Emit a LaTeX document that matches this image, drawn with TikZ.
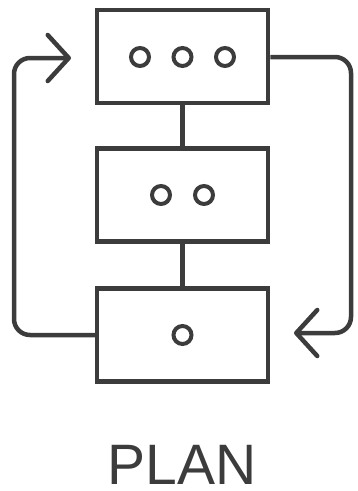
\documentclass[tikz,border=0pt]{standalone}
\usepackage{fontspec}
\setmainfont{Liberation Sans}
\usetikzlibrary{arrows.meta}
\definecolor{ink}{HTML}{3C3C3C}
\begin{document}
\begin{tikzpicture}[x=1pt,y=-1pt,
  box/.style={draw=ink,line width=4.5pt,minimum width=171pt,minimum height=93pt,inner sep=0pt},
  dot/.style={draw=ink,line width=4pt,circle,minimum size=18pt,inner sep=0pt},
  link/.style={draw=ink,line width=4.5pt},
  loop/.style={draw=ink,line width=4.5pt,rounded corners=16pt,
    -{Straight Barb[length=21pt,width=46pt,line width=4.5pt,round]}}]
\useasboundingbox (0,0) rectangle (358,491);
\node[box] (top) at (182.5,56.5) {};
\node[box] (mid) at (182.5,195) {};
\node[box] (bot) at (182.5,335) {};
\node[dot] (t1) at (140,57) {};
\node[dot] (t2) at (182.5,57) {};
\node[dot] (t3) at (225,57) {};
\node[dot] (m1) at (161,195) {};
\node[dot] (m2) at (204,195) {};
\node[dot] (b1) at (182.5,335) {};
\draw[link] (top.south) -- (mid.north);
\draw[link] (mid.south) -- (bot.north);
\coordinate (la) at (71,58);
\coordinate (ra) at (294,333);
\draw[loop] (bot.west |- 0,335) -- (14,335) -- (14,58) -- (la);
\draw[loop] (top.east |- 0,57) -- (351,57) -- (351,333) -- (ra);
\node[text=ink,font=\fontsize{57}{57}\selectfont,anchor=base,inner sep=0pt] (lbl) at (182,484) {PLAN};
\end{tikzpicture}
\end{document}
